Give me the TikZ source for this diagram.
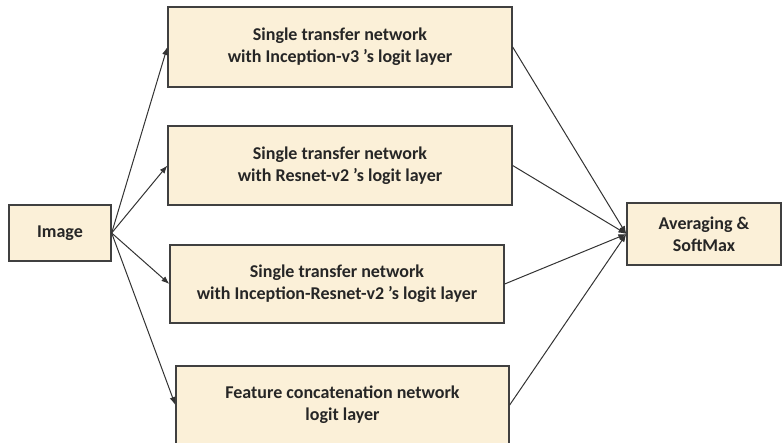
\documentclass[tikz,border=0pt]{standalone}
\usepackage{fontspec}
\setmainfont{Carlito}
\usetikzlibrary{arrows.meta}
\definecolor{boxfill}{RGB}{251,240,216}
\definecolor{boxline}{RGB}{64,64,64}
\begin{document}
\begin{tikzpicture}[x=1pt,y=-1pt,>={Latex[length=8pt,width=6pt]},
    box/.style={draw=boxline,line width=1.3pt,fill=boxfill,inner sep=0pt,align=center,
      font=\fontsize{18}{22}\selectfont\bfseries,text=black!85},
    link/.style={->,line width=1pt,draw=black!80}]
      \useasboundingbox (0,0) rectangle (783,442);
      \node[box,minimum width=102pt,minimum height=56pt] (i) at (60,233) {Image};
      \node[box,minimum width=344pt,minimum height=80pt] (a) at (340,47) {Single transfer network\\with Inception-v3 's logit layer};
      \node[box,minimum width=344pt,minimum height=79pt] (b) at (340,165.5) {Single transfer network\\with Resnet-v2 's logit layer};
      \node[box,minimum width=334pt,minimum height=78pt] (c) at (337,284) {Single transfer network\\with Inception-Resnet-v2 's logit layer};
      \node[box,minimum width=333pt,minimum height=78pt] (d) at (342.5,405) {Feature concatenation network\\logit layer};
      \node[box,minimum width=154pt,minimum height=62pt] (s) at (704,234) {Averaging \&\\SoftMax};
      \draw[link] (i.east) -- (a.west);
      \draw[link] (i.east) -- (b.west);
      \draw[link] (i.east) -- (c.west);
      \draw[link] (i.east) -- (d.west);
      \draw[link] (a.east) -- (s.west);
      \draw[link] (b.east) -- (s.west);
      \draw[link] (c.east) -- (s.west);
      \draw[link] (d.east) -- (s.west);
    \end{tikzpicture}
\end{document}
